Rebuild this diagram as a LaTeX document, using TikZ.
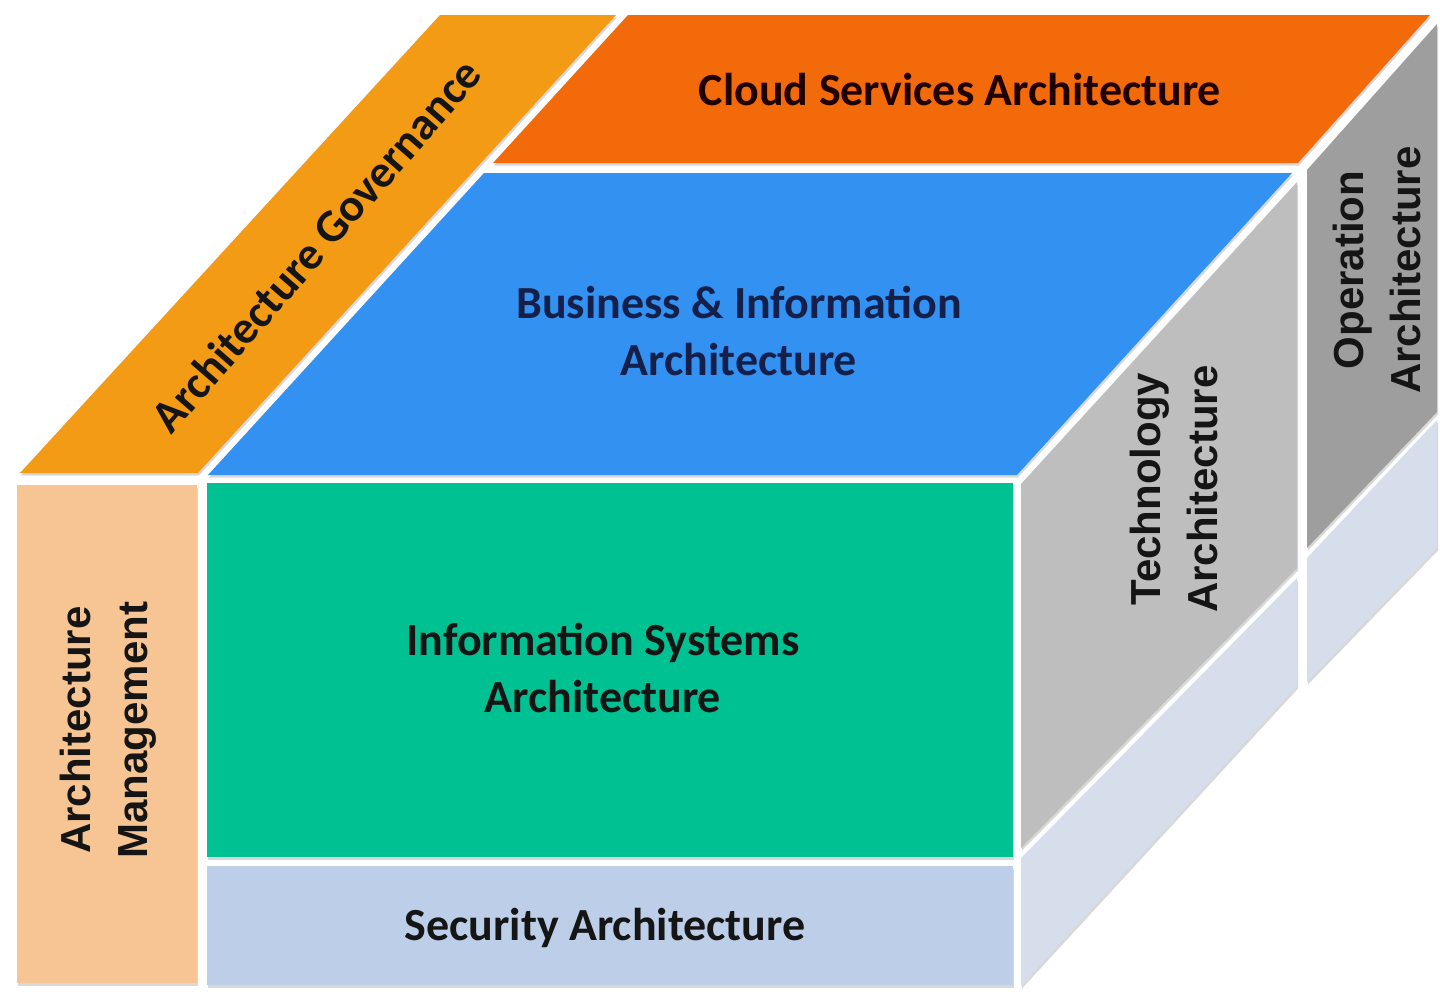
\documentclass[tikz,border=0pt]{standalone}
\usepackage{fontspec}
\newfontfamily\calib{Carlito}
\newfontfamily\arialb{Liberation Sans}
\usetikzlibrary{shadows}
\definecolor{govC}{HTML}{F49B15}
\definecolor{cloudC}{HTML}{F36A0A}
\definecolor{busC}{HTML}{3391F1}
\definecolor{isC}{HTML}{00C191}
\definecolor{mgmtC}{HTML}{F6C593}
\definecolor{secC}{HTML}{BDCFE8}
\definecolor{techC}{HTML}{BEBEBE}
\definecolor{opC}{HTML}{9E9E9E}
\definecolor{sideC}{HTML}{D5DEEA}
\definecolor{navyT}{HTML}{14204A}
\definecolor{darkT}{HTML}{151515}
\begin{document}
\begin{tikzpicture}[x=1pt,y=-1pt,
  face/.style={drop shadow={shadow xshift=1pt,shadow yshift=-2.5pt,opacity=0.3}},
  bigtxt/.style={inner sep=0pt,text=darkT,font=\calib\bfseries\fontsize{46}{57}\selectfont,align=center},
  vtxt/.style={inner sep=0pt,text=darkT,font=\arialb\bfseries\fontsize{42}{57}\selectfont,align=center,rotate=90}]
\useasboundingbox (0,0) rectangle (1440,997);
\fill[white] (0,0) rectangle (1440,997);
% top faces
\fill[cloudC,face] (493,163) -- (1298,163) -- (1430,15) -- (628,15) -- cycle;
\fill[govC,face] (20,473) -- (198,473) -- (616,15) -- (440,15) -- cycle;
\fill[busC,face] (208,475) -- (1017,475) -- (1292,173) -- (484,173) -- cycle;
% right side faces
\fill[opC,face] (1307,170) -- (1437,24) -- (1437,412) -- (1307,548) -- cycle;
\fill[techC,face] (1021,484) -- (1297,182) -- (1297,568) -- (1021,848) -- cycle;
\fill[sideC,face] (1307,558) -- (1437,420) -- (1437,548) -- (1307,682) -- cycle;
\fill[sideC,face] (1021,858) -- (1297,578) -- (1297,686) -- (1021,986) -- cycle;
% front faces
\fill[mgmtC,face] (17,485) rectangle (197,983);
\fill[isC,face] (207,483) rectangle (1013,857);
\fill[secC,face] (207,866) rectangle (1013,985);
% labels
\node[bigtxt,text=black!88!red,anchor=base] (cloud) at (960,105) {Cloud Services Architecture};
\node[bigtxt,text=navyT] (bus) at (739,331) {Business \& Information\\Architecture};
\node[bigtxt] (is) at (603,668) {Information Systems\\Architecture};
\node[bigtxt,anchor=base] (sec) at (605,940) {Security Architecture};
\node[bigtxt,rotate=49] (gov) at (316,245) {Architecture Governance};
\node[vtxt] (mgmt) at (108,730) {Architecture\\Management};
\node[vtxt] (tech) at (1174,489) {Technology\\Architecture};
\node[vtxt] (op) at (1377,270) {Operation\\Architecture};
\end{tikzpicture}
\end{document}
